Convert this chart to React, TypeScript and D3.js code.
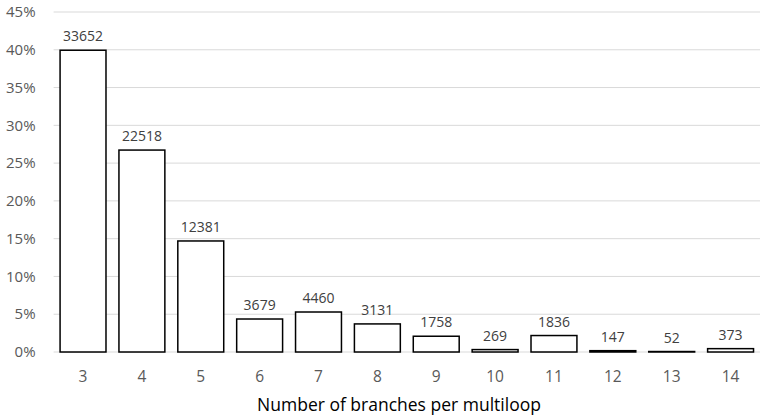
import { useEffect, useRef } from 'react'
import * as d3 from 'd3'

const BRANCHES = ['3', '4', '5', '6', '7', '8', '9', '10', '11', '12', '13', '14']
const COUNTS = [33652, 22518, 12381, 3679, 4460, 3131, 1758, 269, 1836, 147, 52, 373]
const Y_TICKS = [0, 0.05, 0.1, 0.15, 0.2, 0.25, 0.3, 0.35, 0.4, 0.45]
const X_TITLE = 'Number of branches per multiloop'

const FONT = '"Open Sans", "Noto Sans", sans-serif'

export default function App() {
  const svgRef = useRef<SVGSVGElement>(null)

  useEffect(() => {
    if (!svgRef.current) return
    const svg = d3.select(svgRef.current)
    svg.selectAll('*').remove()

    const W = 764
    const H = 419
    const margin = { top: 12, right: 4, bottom: 67, left: 53.6 }
    const width = W - margin.left - margin.right
    const height = H - margin.top - margin.bottom

    const total = d3.sum(COUNTS)
    const data = BRANCHES.map((b, i) => ({ b, count: COUNTS[i], pct: COUNTS[i] / total }))

    const g = svg.append('g').attr('transform', `translate(${margin.left},${margin.top})`)

    const x = d3.scaleBand().domain(BRANCHES).range([0, width]).paddingInner(0.22).paddingOuter(0.11)
    const y = d3.scaleLinear().domain([0, 0.45]).range([height, 0])

    // gridlines
    g.selectAll('line.grid')
      .data(Y_TICKS)
      .join('line')
      .attr('class', 'grid')
      .attr('x1', 0).attr('x2', width)
      .attr('y1', (d) => y(d)).attr('y2', (d) => y(d))
      .attr('stroke', '#d9d9d9').attr('stroke-width', 1)

    // y labels
    g.selectAll('text.ytick')
      .data(Y_TICKS)
      .join('text')
      .attr('class', 'ytick')
      .attr('x', -18).attr('y', (d) => y(d))
      .attr('dy', '0.35em')
      .attr('text-anchor', 'end')
      .attr('font-family', FONT).attr('font-size', 15).attr('fill', '#595959')
      .text((d) => `${Math.round(d * 100)}%`)

    // bars
    g.selectAll('rect.bar')
      .data(data)
      .join('rect')
      .attr('class', 'bar')
      .attr('x', (d) => x(d.b)!)
      .attr('width', x.bandwidth())
      .attr('y', (d) => y(d.pct))
      .attr('height', (d) => height - y(d.pct))
      .attr('fill', '#fff').attr('stroke', '#000').attr('stroke-width', 1.5)

    // count labels
    g.selectAll('text.count')
      .data(data)
      .join('text')
      .attr('class', 'count')
      .attr('x', (d) => x(d.b)! + x.bandwidth() / 2)
      .attr('y', (d) => y(d.pct) - 9)
      .attr('text-anchor', 'middle')
      .attr('font-family', FONT).attr('font-size', 14).attr('fill', '#404040')
      .text((d) => d.count)

    // x labels
    g.selectAll('text.xtick')
      .data(BRANCHES)
      .join('text')
      .attr('class', 'xtick')
      .attr('x', (d) => x(d)! + x.bandwidth() / 2)
      .attr('y', height + 25)
      .attr('dy', '0.35em')
      .attr('text-anchor', 'middle')
      .attr('font-family', FONT).attr('font-size', 15.5).attr('fill', '#595959')
      .text((d) => d)

    svg.append('text')
      .attr('x', 399).attr('y', 405)
      .attr('dy', '0.35em')
      .attr('text-anchor', 'middle')
      .attr('font-family', FONT).attr('font-size', 17.5).attr('fill', '#000')
      .text(X_TITLE)
  }, [])

  return (
    <svg
      ref={svgRef}
      width={764}
      height={419}
      style={{ position: 'absolute', left: 0, top: 0, background: '#fff' }}
    />
  )
}
